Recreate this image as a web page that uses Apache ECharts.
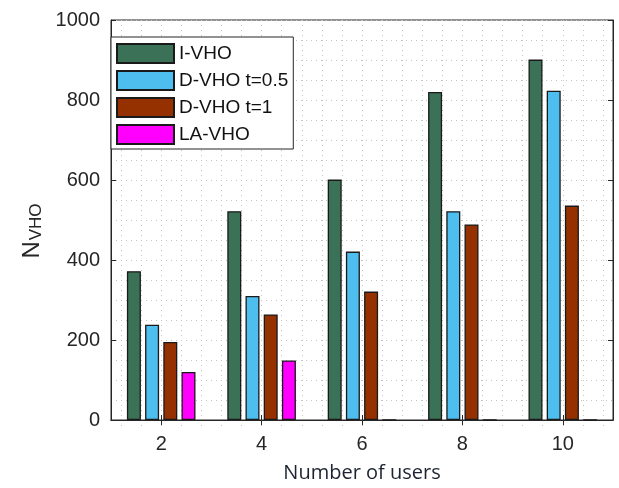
<!DOCTYPE html>
<html>
<head>
<meta charset="utf-8">
<script src="https://cdn.jsdelivr.net/npm/echarts@6/dist/echarts.min.js"></script>
<style>html,body{margin:0;padding:0;background:#fff}#c{width:619px;height:488px}</style>
</head>
<body>
<div id="c"></div>
<script>
const categories = ['2', '4', '6', '8', '10'];
const seriesNames = ['I-VHO', 'D-VHO t=0.5', 'D-VHO t=1', 'LA-VHO'];
const iVHO = [372, 522, 601, 820, 901];
const dVHO05 = [238, 310, 421, 522, 823];
const dVHO1 = [195, 264, 321, 489, 536];
const laVHO = [120, 149, 0, 0, 0];
const yTicks = [0, 200, 400, 600, 800, 1000];
const minorXSteps = [0, 24]; // 25 minor grid positions (every 0.4 user units)

const colors = ['#3b7156', '#4dbeee', '#953100', '#ff00ff'];
const font = '"Liberation Sans", Arial, Helvetica, sans-serif';
const axisColor = '#262626';
const gridLine = { show: true, lineStyle: { color: '#c4c4c4', type: [1, 4], width: 1 } };

const chart = echarts.init(document.getElementById('c'), null, { renderer: 'canvas' });
const values = [iVHO, dVHO05, dVHO1, laVHO];

const option = {
  animation: false,
  backgroundColor: '#fff',
  grid: [
    { left: 111, right: 6, top: 20, bottom: 62, show: true, borderColor: axisColor, borderWidth: 1, backgroundColor: '#fff' },
    { left: 121.08, right: 16.04, top: 20, bottom: 62, show: false }
  ],
  legend: {
    data: seriesNames,
    orient: 'vertical',
    left: 111, top: 37,
    itemWidth: 57, itemHeight: 19, itemGap: 6,
    padding: [6, 5, 4, 5],
    backgroundColor: '#fff', borderColor: axisColor, borderWidth: 1,
    textStyle: { fontFamily: font, fontSize: 19, lineHeight: 19, color: '#111' },
    icon: 'rect'
  },
  xAxis: [
    {
      type: 'category', data: categories, gridIndex: 0, position: 'bottom',
      axisLine: { show: true, lineStyle: { color: axisColor } },
      axisTick: { show: true, inside: true, alignWithLabel: true, length: 5, lineStyle: { color: axisColor } },
      axisLabel: { fontFamily: font, fontSize: 20, color: axisColor, margin: 14 },
      splitLine: { show: false },
      name: 'Number of users', nameLocation: 'middle', nameGap: 43,
      nameTextStyle: { fontFamily: '"Open Sans", "Noto Sans", sans-serif', fontSize: 20, color: '#1c2433' }
    },
    {
      type: 'category', data: categories, gridIndex: 0, position: 'top',
      axisLine: { show: true, lineStyle: { color: axisColor } },
      axisTick: { show: true, inside: true, alignWithLabel: true, length: 5, lineStyle: { color: axisColor } },
      axisLabel: { show: false }, splitLine: { show: false }
    },
    {
      type: 'value', gridIndex: 1, min: minorXSteps[0], max: minorXSteps[1], interval: 1,
      axisLine: { show: false }, axisTick: { show: false }, axisLabel: { show: false },
      splitLine: gridLine
    }
  ],
  yAxis: [
    {
      type: 'value', gridIndex: 0, min: yTicks[0], max: yTicks[yTicks.length - 1], interval: 200, position: 'left',
      axisLine: { show: true, lineStyle: { color: axisColor } },
      axisTick: { show: true, inside: true, length: 5, lineStyle: { color: axisColor } },
      axisLabel: { fontFamily: font, fontSize: 20, color: axisColor, margin: 11, formatter: v => String(v) },
      splitLine: gridLine,
      minorTick: { show: false, splitNumber: 4 },
      minorSplitLine: gridLine,
      name: '{n|N}{s|VHO}', nameLocation: 'middle', nameGap: 66, nameRotate: 90,
      nameTextStyle: {
        fontFamily: font, color: axisColor, padding: [0, 22, 0, 0],
        rich: {
          n: { fontFamily: font, fontSize: 24, color: axisColor, lineHeight: 24, verticalAlign: 'top' },
          s: { fontFamily: font, fontSize: 17, color: axisColor, lineHeight: 17, padding: [19, 0, 0, 1], verticalAlign: 'bottom' }
        }
      }
    },
    {
      type: 'value', gridIndex: 0, min: yTicks[0], max: yTicks[yTicks.length - 1], interval: 200, position: 'right',
      axisLine: { show: true, lineStyle: { color: axisColor } },
      axisTick: { show: true, inside: true, length: 5, lineStyle: { color: axisColor } },
      axisLabel: { show: false }, splitLine: { show: false }
    },
    { type: 'value', gridIndex: 1, min: 0, max: 1000, show: false, splitLine: { show: false } }
  ],
  series: seriesNames.map((name, i) => ({
    name, type: 'bar', xAxisIndex: 0, yAxisIndex: 0,
    data: values[i],
    barWidth: 14, barGap: '30%',
    itemStyle: { color: colors[i], borderColor: '#1a1a1a', borderWidth: 1.3 },
    z: 5
  }))
};
chart.setOption(option);
</script>
</body>
</html>
